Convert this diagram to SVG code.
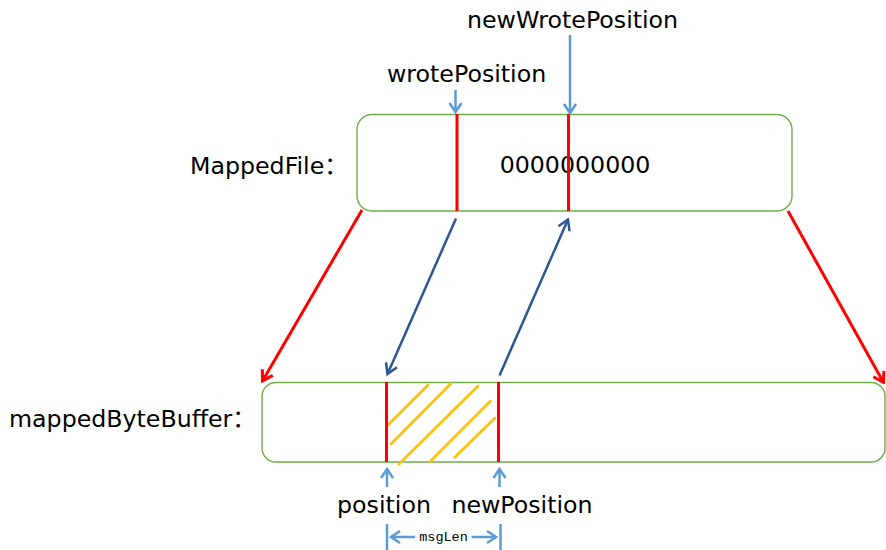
<svg xmlns="http://www.w3.org/2000/svg" width="886" height="550" viewBox="0 0 886 550">
<style>
  .lbl { font-family: "DejaVu Sans", "Noto Sans CJK SC", sans-serif; font-size: 23.7px; fill: #000; }
  .mono { font-family: "Liberation Mono", monospace; font-size: 13.5px; fill: #000; }
  .box { fill: #fff; stroke: #70AD47; stroke-width: 1.4; }
  .cut { stroke: #FF0000; stroke-width: 3; }
  .hatch { stroke: #FFC000; stroke-width: 2.5; stroke-linecap: round; }
  .red { stroke: #FF0000; stroke-width: 3; fill: none; }
  .dblue { stroke: #2F5597; stroke-width: 2.5; fill: none; }
  .lblue { stroke: #5B9BD5; stroke-width: 2.5; fill: none; }
</style>
<defs>
  <marker id="mRed" viewBox="-14 -9 16 18" refX="0" refY="0" markerWidth="16" markerHeight="18" markerUnits="userSpaceOnUse" orient="auto">
    <path d="M-10,-6 L0,0 L-10,6" fill="none" stroke="#FF0000" stroke-width="3"/>
  </marker>
  <marker id="mDBlue" viewBox="-14 -9 16 18" refX="0" refY="0" markerWidth="16" markerHeight="18" markerUnits="userSpaceOnUse" orient="auto">
    <path d="M-10,-6 L0,0 L-10,6" fill="none" stroke="#2F5597" stroke-width="2.5"/>
  </marker>
  <marker id="mLBlue" viewBox="-13 -9 15 18" refX="0" refY="0" markerWidth="15" markerHeight="18" markerUnits="userSpaceOnUse" orient="auto">
    <path d="M-9,-6 L0,0 L-9,6" fill="none" stroke="#5B9BD5" stroke-width="2.5"/>
  </marker>
</defs>
<rect width="886" height="550" fill="#fff"/>

<g id="mappedFile">
  <rect class="box" x="357" y="114.5" width="435" height="96.5" rx="15" ry="15"/>
  <text class="lbl" x="575" y="173" text-anchor="middle">0000000000</text>
  <line class="cut" x1="457" y1="114" x2="457" y2="211"/>
  <line class="cut" x1="568.5" y1="114" x2="568.5" y2="211"/>
</g>
<g id="mappedFileLabel"><text class="lbl" x="190" y="174">MappedFile：</text></g>

<g id="mappedByteBuffer">
  <rect class="box" x="262" y="382.5" width="623" height="79.5" rx="14" ry="14"/>
  <line class="hatch" x1="388" y1="425" x2="428" y2="385"/>
  <line class="hatch" x1="391" y1="444" x2="451" y2="383.5"/>
  <line class="hatch" x1="399" y1="464" x2="478" y2="386"/>
  <line class="hatch" x1="430.5" y1="461" x2="490.5" y2="401"/>
  <line class="hatch" x1="454.5" y1="457.5" x2="495" y2="418"/>
  <line class="cut" x1="386.5" y1="382" x2="386.5" y2="462"/>
  <line class="cut" x1="498.5" y1="382" x2="498.5" y2="462"/>
</g>
<g id="mappedByteBufferLabel"><text class="lbl" x="9" y="427">mappedByteBuffer：</text></g>

<g id="wrotePosition"><text class="lbl" x="387" y="82">wrotePosition</text></g>
<g id="newWrotePosition"><text class="lbl" x="467" y="28">newWrotePosition</text></g>
<g id="position"><text class="lbl" x="384" y="513" text-anchor="middle">position</text></g>
<g id="newPosition"><text class="lbl" x="522" y="513" text-anchor="middle">newPosition</text></g>
<g id="msgLen">
  <line x1="387" y1="524" x2="387" y2="550" stroke="#5B9BD5" stroke-width="2.5"/>
  <line x1="500.5" y1="524" x2="500.5" y2="550" stroke="#5B9BD5" stroke-width="2.5"/>
  <text class="mono" x="443.5" y="541" text-anchor="middle">msgLen</text>
</g>

<g id="connectors">
  <line class="red" x1="362" y1="210" x2="262.5" y2="381" marker-end="url(#mRed)"/>
  <line class="red" x1="788" y1="211" x2="883.5" y2="382.5" marker-end="url(#mRed)"/>
  <line class="dblue" x1="456" y1="218.5" x2="387.5" y2="374" marker-end="url(#mDBlue)"/>
  <line class="dblue" x1="499.5" y1="375.5" x2="568" y2="219.5" marker-end="url(#mDBlue)"/>
  <line class="lblue" x1="455.5" y1="90" x2="455.5" y2="112" marker-end="url(#mLBlue)"/>
  <line class="lblue" x1="570" y1="35" x2="570" y2="113" marker-end="url(#mLBlue)"/>
  <line class="lblue" x1="387" y1="487" x2="387" y2="469" marker-end="url(#mLBlue)"/>
  <line class="lblue" x1="499.5" y1="487" x2="499.5" y2="469" marker-end="url(#mLBlue)"/>
  <line class="lblue" x1="415" y1="537" x2="391" y2="537" marker-end="url(#mLBlue)"/>
  <line class="lblue" x1="471.5" y1="537" x2="496" y2="537" marker-end="url(#mLBlue)"/>
</g>
</svg>
